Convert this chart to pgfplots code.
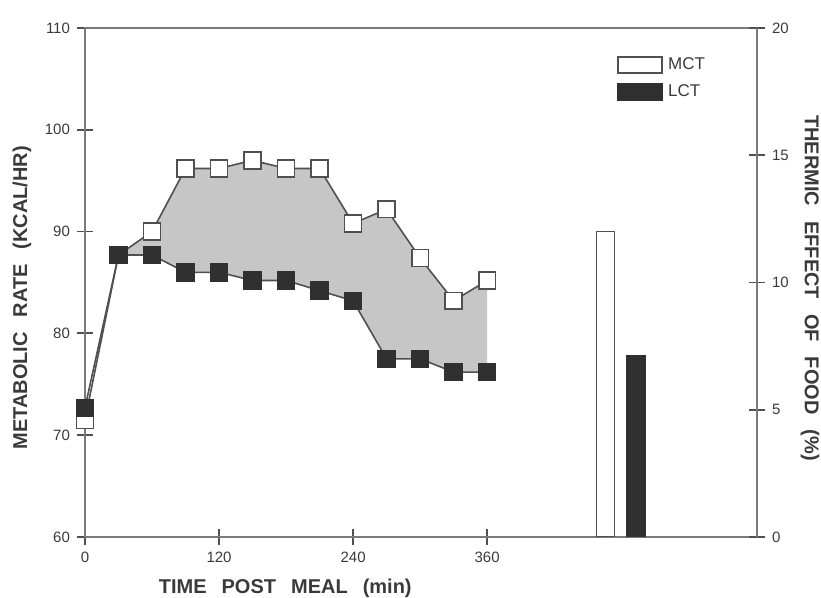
\documentclass[border=0pt]{standalone}
\usepackage{fontspec}
\setmainfont{Liberation Sans}
\usepackage{pgfplots}
\pgfplotsset{compat=1.18}
\usepgfplotslibrary{fillbetween}
\definecolor{ln}{HTML}{505050}
\definecolor{ax}{HTML}{7A7A7A}
\definecolor{fillg}{HTML}{C6C6C6}
\definecolor{dk}{HTML}{303030}
\definecolor{txt}{HTML}{3A3A3A}
\newcommand{\ws}{\hspace{0.75em}}
\begin{document}
\begin{tikzpicture}
\pgfplotsset{
  common/.style={scale only axis, width=336pt, height=254.5pt, xmin=0, xmax=601.6,
   tick align=center, major tick length=8pt,
   axis line style={ax, line width=0.9pt},
   every tick/.style={ln, line width=0.9pt},
   tick label style={font=\fontsize{7.5}{8}\selectfont, text=txt},
   label style={font=\bfseries\fontsize{10}{12}\selectfont, text=txt},
   /pgf/number format/assume math mode=true,
  }
}
\begin{axis}[common, set layers,
  ymin=60, ymax=110, ytick={60,70,...,110}, xtick={0,120,240,360},
  xtick pos=left, ytick pos=left,
  xlabel={TIME\ws POST\ws MEAL\ws (min)},
  ylabel={METABOLIC\ws RATE\ws (KCAL/HR)},
  xlabel style={at={(axis description cs:0.298,-0.100)}, anchor=center},
  ylabel style={at={(axis description cs:-0.094,0.47)}, anchor=center},
  legend style={draw=none, fill=none, at={(axis description cs:0.7917,0.947)}, anchor=north west,
    inner sep=0pt, row sep=4pt, font=\fontsize{8.5}{9}\selectfont, text=txt,
    nodes={inner sep=1pt, inner xsep=2.5pt}},
  legend cell align=left,
]
\addplot[name path=mct, ln, line width=0.8pt, mark=square*, mark size=4.2pt,
  mark options={fill=white, draw=ln, line width=0.8pt}, forget plot] coordinates {
  (0,71.5) (30,87.7) (60,90.0) (90,96.2) (120,96.2) (150,97.0) (180,96.2)
  (210,96.2) (240,90.8) (270,92.2) (300,87.4) (330,83.2) (360,85.2)};
\addplot[name path=lct, ln, line width=0.8pt, mark=square*, mark size=4.2pt,
  mark options={fill=dk, draw=dk, line width=0.8pt}, forget plot] coordinates {
  (0,72.7) (30,87.7) (60,87.7) (90,86.0) (120,86.0) (150,85.2) (180,85.2)
  (210,84.2) (240,83.2) (270,77.5) (300,77.5) (330,76.2) (360,76.2)};
\addplot[fillg, forget plot] fill between[of=mct and lct, soft clip={domain=30:360}];
\addlegendimage{legend image code/.code={\draw[draw=ln, fill=white, line width=0.9pt] (0pt,-4pt) rectangle (22pt,4pt);}}
\addlegendentry{MCT}
\addlegendimage{legend image code/.code={\draw[draw=dk, fill=dk, line width=0.9pt] (0pt,-4pt) rectangle (22pt,4pt);}}
\addlegendentry{LCT}
\end{axis}
\begin{axis}[common,
  ymin=0, ymax=20, ytick={0,5,...,20},
  axis x line=none, axis y line*=right,
  ylabel={THERMIC\ws EFFECT\ws OF\ws FOOD\ws (\%)},
  ylabel style={at={(axis description cs:1.079,0.489)}, anchor=center, rotate=180},
]
\addplot[ybar, bar width=9pt, bar shift=0pt, draw=ln, fill=white, line width=0.8pt] coordinates {(466,12.0)};
\addplot[ybar, bar width=9pt, bar shift=0pt, draw=dk, fill=dk, line width=0.8pt] coordinates {(493,7.1)};
\end{axis}
\pgfresetboundingbox
\path[use as bounding box] (-42.5pt,-30.5pt) rectangle (368pt,268.5pt);
\end{tikzpicture}
\end{document}
